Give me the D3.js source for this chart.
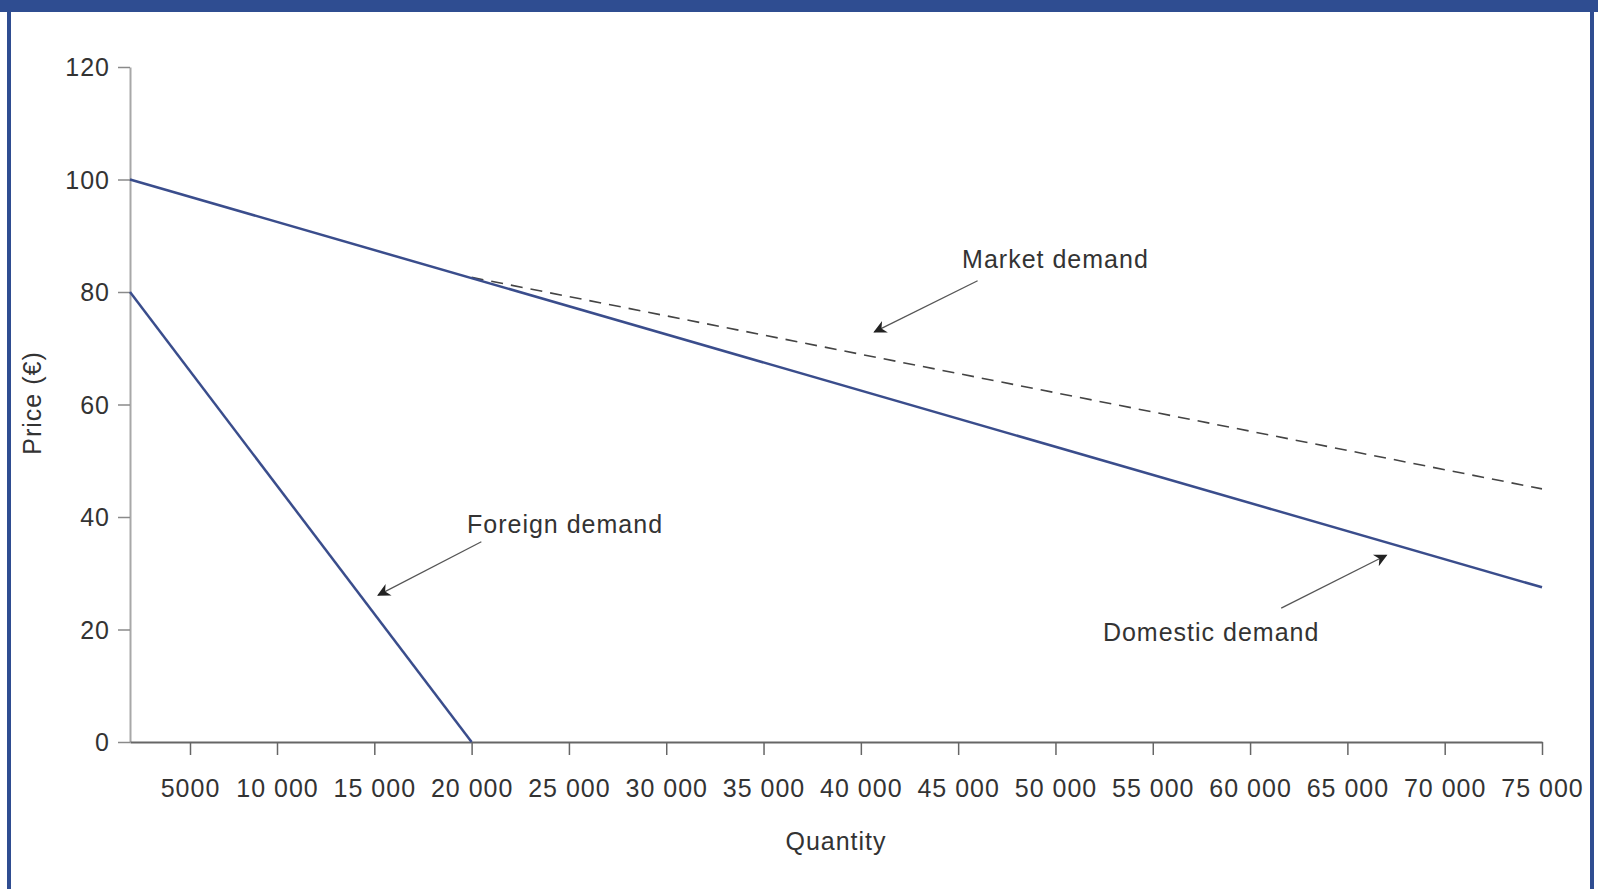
<!DOCTYPE html>
<html>
<head>
<meta charset="utf-8">
<script src="https://cdn.jsdelivr.net/npm/d3@7"></script>
<style>
  html, body { margin: 0; padding: 0; background: #fff; }
  svg { display: block; }
  text { font-family: "Liberation Sans", Arial, sans-serif; letter-spacing: 1px; }
</style>
</head>
<body>
<svg id="chart" width="1598" height="889"></svg>
<script>
// ---- data ----
const xTicks = [5000, 10000, 15000, 20000, 25000, 30000, 35000, 40000, 45000, 50000, 55000, 60000, 65000, 70000, 75000];
const xTickLabels = ["5000", "10 000", "15 000", "20 000", "25 000", "30 000", "35 000", "40 000", "45 000", "50 000", "55 000", "60 000", "65 000", "70 000", "75 000"];
const yTicks = [0, 20, 40, 60, 80, 100, 120];
const domesticQ = [0, 75000];
const domesticP = [100, 27.5];
const foreignQ = [0, 20000];
const foreignP = [80, 0];
const marketQ = [20000, 75000];
const marketP = [82.6, 45];
const annotationLabels = ["Market demand", "Foreign demand", "Domestic demand"];
// annotation anchors in data units: [textQ, arrowFromQ, arrowToQ] and [textP, arrowFromP, arrowToP]
const annotationQ = [[50000, 46000, 40700], [24800, 20500, 15200], [58000, 61600, 67000]];
const annotationP = [[85.4, 82, 72.9], [38.4, 35.6, 26.1], [19.2, 23.8, 33.2]];

// ---- drawing ----
const svg = d3.select("#chart");
const blue = "#3a4d8c";
const border = "#2f4d91";

// frame
svg.append("rect").attr("x", 0).attr("y", 0).attr("width", 1598).attr("height", 12).attr("fill", border);
svg.append("rect").attr("x", 7).attr("y", 0).attr("width", 4).attr("height", 889).attr("fill", border);
svg.append("rect").attr("x", 1590).attr("y", 0).attr("width", 4).attr("height", 889).attr("fill", border);

const x = d3.scaleLinear().domain([0, 5000, 10000, 75000]).range([130, 190, 277, 1542]);
const y = d3.scaleLinear().domain([0, 120]).range([742, 67]);

// y axis
const yAxis = svg.append("g").attr("transform", `translate(${x(0)},0)`)
  .call(d3.axisLeft(y).tickValues(yTicks).tickSize(12).tickPadding(8).tickSizeOuter(0));
yAxis.select(".domain").attr("stroke", "#a8a8a8").attr("stroke-width", 2);
yAxis.selectAll(".tick line").attr("stroke", "#8a8a8a").attr("stroke-width", 1.5);
yAxis.selectAll(".tick text").attr("font-size", 25).attr("fill", "#333").attr("dy", "0.35em")
  .attr("font-family", "'Liberation Sans', Arial, sans-serif");

// x axis
const xAxis = svg.append("g").attr("transform", `translate(0,${y(0)})`)
  .call(d3.axisBottom(x).tickValues(xTicks).tickFormat((d, i) => xTickLabels[i]).tickSize(13).tickPadding(24).tickSizeOuter(0));
xAxis.select(".domain").attr("stroke", "#666").attr("stroke-width", 2);
xAxis.selectAll(".tick line").attr("stroke", "#666").attr("stroke-width", 1.5);
xAxis.selectAll(".tick text").attr("font-size", 25).attr("fill", "#333")
  .attr("font-family", "'Liberation Sans', Arial, sans-serif");

// axis titles
svg.append("text").attr("x", 836).attr("y", 843).attr("text-anchor", "middle").attr("dominant-baseline", "middle")
  .attr("font-size", 25).attr("fill", "#333").text("Quantity");
svg.append("text").attr("transform", "translate(34,403) rotate(-90)").attr("text-anchor", "middle").attr("dominant-baseline", "middle")
  .attr("font-size", 25).attr("fill", "#333").text("Price (€)");

// lines
const line = d3.line().x(d => x(d[0])).y(d => y(d[1]));
svg.append("path").datum(d3.zip(marketQ, marketP)).attr("d", line)
  .attr("fill", "none").attr("stroke", "#444").attr("stroke-width", 1.6).attr("stroke-dasharray", "12,8");
svg.append("path").datum(d3.zip(domesticQ, domesticP)).attr("d", line)
  .attr("fill", "none").attr("stroke", blue).attr("stroke-width", 2.5);
svg.append("path").datum(d3.zip(foreignQ, foreignP)).attr("d", line)
  .attr("fill", "none").attr("stroke", blue).attr("stroke-width", 2.5);

// arrowhead
svg.append("defs").append("marker").attr("id", "arrow").attr("viewBox", "0 0 10 10")
  .attr("refX", 9).attr("refY", 5).attr("markerWidth", 18).attr("markerHeight", 13)
  .attr("markerUnits", "userSpaceOnUse").attr("orient", "auto")
  .append("path").attr("d", "M0,0 L10,5 L0,10 L3,5 Z").attr("fill", "#222");

annotationLabels.forEach((lab, i) => {
  const q = annotationQ[i], p = annotationP[i];
  svg.append("text").attr("x", x(q[0])).attr("y", y(p[0])).attr("text-anchor", "middle").attr("dominant-baseline", "middle")
    .attr("font-size", 25).attr("fill", "#333").text(lab);
  svg.append("line").attr("x1", x(q[1])).attr("y1", y(p[1])).attr("x2", x(q[2])).attr("y2", y(p[2]))
    .attr("stroke", "#555").attr("stroke-width", 1.3).attr("marker-end", "url(#arrow)");
});
</script>
</body>
</html>
